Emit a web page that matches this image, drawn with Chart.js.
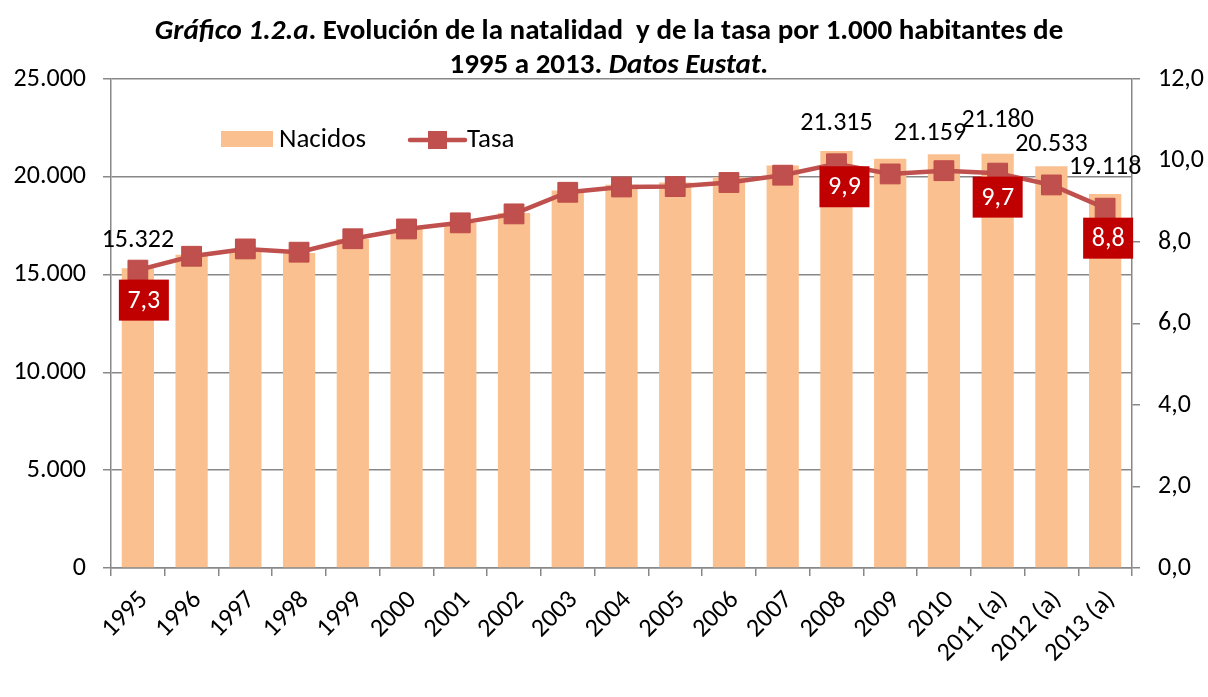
<!DOCTYPE html>
<html>
<head>
<meta charset="utf-8">
<script src="https://cdn.jsdelivr.net/npm/chart.js@4.4.1/dist/chart.umd.min.js"></script>
<style>
  body { margin: 0; background: #fff; }
  #wrap { position: relative; width: 1208px; height: 697px; }
  #titulo {
    position: absolute; left: 0; top: 12px; width: 1218px;
    text-align: center; font-family: Carlito, Lato, sans-serif;
    font-weight: bold; font-size: 29px; line-height: 34px; color: #000;
  }
</style>
</head>
<body>
<div id="wrap">
  <canvas id="grafico" width="1208" height="697"></canvas>
  <div id="titulo"><i>Gráfico 1.2.a</i>. Evolución de la natalidad&nbsp; y de la tasa por 1.000 habitantes de<br>1995 a 2013. <i>Datos Eustat.</i></div>
</div>
<script>
const years = ['1995', '1996', '1997', '1998', '1999', '2000', '2001', '2002', '2003', '2004',
  '2005', '2006', '2007', '2008', '2009', '2010', '2011 (a)', '2012 (a)', '2013 (a)'];
const nacidos = [15322, 16020, 16280, 16100, 16820, 17330, 17640, 18150, 19300, 19590,
  19710, 19980, 20580, 21315, 20920, 21159, 21180, 20533, 19118];
const tasa = [7.31, 7.65, 7.83, 7.75, 8.08, 8.32, 8.47, 8.69, 9.22, 9.35,
  9.36, 9.46, 9.64, 9.92, 9.67, 9.75, 9.69, 9.40, 8.83];
const leftTicks = [0, 5000, 10000, 15000, 20000, 25000];
const rightTicks = [0, 2, 4, 6, 8, 10, 12];
// which points carry a value label
const barLabelIdx = [0, 13, 15, 16, 17, 18];
const rateLabelIdx = [0, 13, 16, 18];

const FONT = 'Carlito, Lato, sans-serif';
const GRIS = '#888888';

// label offsets (px) from the bar top / point centre
const barOff = { 0: [0, -28], 13: [0, -28], 15: [-14, -21], 16: [0, -33], 17: [0, -22], 18: [0, -27] };
const rateOff = { 0: [6, 30], 13: [8, 23], 16: [0, 24], 18: [3, 30] };

function miles(v) {
  return Math.round(v).toString().replace(/\B(?=(\d{3})+(?!\d))/g, '.');
}
function coma(v) {
  return v.toFixed(1).replace('.', ',');
}

const etiquetas = {
  id: 'etiquetas',
  afterDatasetsDraw(chart) {
    const ctx = chart.ctx;
    const bars = chart.getDatasetMeta(0).data;
    const pts = chart.getDatasetMeta(1).data;
    ctx.save();
    ctx.font = '26px ' + FONT;
    ctx.textAlign = 'center';
    ctx.textBaseline = 'middle';
    ctx.fillStyle = '#000';
    barLabelIdx.forEach(i => {
      const o = barOff[i];
      ctx.fillText(miles(nacidos[i]), bars[i].x + o[0], bars[i].y + o[1]);
    });
    rateLabelIdx.forEach(i => {
      const o = rateOff[i];
      const cx = pts[i].x + o[0], cy = pts[i].y + o[1];
      ctx.fillStyle = '#C00000';
      ctx.fillRect(cx - 25, cy - 20.5, 50, 41);
      ctx.fillStyle = '#fff';
      ctx.fillText(coma(tasa[i]), cx, cy + 1);
    });
    ctx.restore();
  },
  afterDraw(chart) {
    // legend inside the plot, like the original
    const ctx = chart.ctx;
    ctx.save();
    ctx.fillStyle = '#FAC090';
    ctx.fillRect(221, 131, 52, 16);
    ctx.font = '27px ' + FONT;
    ctx.textBaseline = 'middle';
    ctx.fillStyle = '#000';
    ctx.fillText('Nacidos', 279, 140);
    ctx.strokeStyle = '#C0504D';
    ctx.lineWidth = 4.5;
    ctx.lineCap = 'round';
    ctx.beginPath();
    ctx.moveTo(410, 140);
    ctx.lineTo(465, 140);
    ctx.stroke();
    ctx.fillStyle = '#C0504D';
    ctx.fillRect(428, 131, 19, 18);
    ctx.fillStyle = '#000';
    ctx.fillText('Tasa', 467, 140);
    ctx.restore();
  }
};

new Chart(document.getElementById('grafico'), {
  type: 'bar',
  data: {
    labels: years,
    datasets: [{
      label: 'Nacidos',
      data: nacidos,
      backgroundColor: '#FAC090',
      borderWidth: 0,
      barPercentage: 0.6,
      categoryPercentage: 1,
      yAxisID: 'y',
      order: 2
    }, {
      type: 'line',
      label: 'Tasa',
      data: tasa,
      borderColor: '#C0504D',
      borderWidth: 4.5,
      tension: 0,
      pointStyle: 'rect',
      pointRadius: 14,
      pointBackgroundColor: '#C0504D',
      pointBorderColor: '#BE4B48',
      pointBorderWidth: 1,
      yAxisID: 'y1',
      order: 1
    }]
  },
  options: {
    responsive: false,
    animation: false,
    layout: { padding: { top: 79, left: 0, right: 0, bottom: 0 } },
    plugins: {
      legend: { display: false },
      tooltip: { enabled: false },
      title: { display: false }
    },
    scales: {
      x: {
        grid: { offset: true, drawOnChartArea: false, drawTicks: true, tickLength: 8, color: GRIS, lineWidth: 1.5 },
        border: { color: GRIS, width: 1.5 },
        ticks: {
          autoSkip: false, maxRotation: 45, minRotation: 45, padding: 9, labelOffset: 6,
          color: '#000', font: { family: FONT, size: 26 }
        },
        afterFit(scale) { scale.height = 129; }
      },
      y: {
        position: 'left',
        min: 0, max: 25000,
        afterBuildTicks(scale) { scale.ticks = leftTicks.map(v => ({ value: v })); },
        grid: { color: GRIS, lineWidth: 1.5, tickLength: 8 },
        border: { color: GRIS, width: 1.5 },
        ticks: {
          padding: 17, color: '#000', font: { family: FONT, size: 26 },
          callback: v => miles(v)
        },
        afterFit(scale) { scale.width = 111; }
      },
      y1: {
        position: 'right',
        min: 0, max: 12,
        afterBuildTicks(scale) { scale.ticks = rightTicks.map(v => ({ value: v })); },
        grid: { drawOnChartArea: false, color: GRIS, lineWidth: 1.5, tickLength: 8 },
        border: { color: GRIS, width: 1.5 },
        ticks: {
          padding: 18, color: '#000', font: { family: FONT, size: 26 },
          callback: v => coma(v)
        },
        afterFit(scale) { scale.width = 76; }
      }
    }
  },
  plugins: [etiquetas]
});
</script>
</body>
</html>
